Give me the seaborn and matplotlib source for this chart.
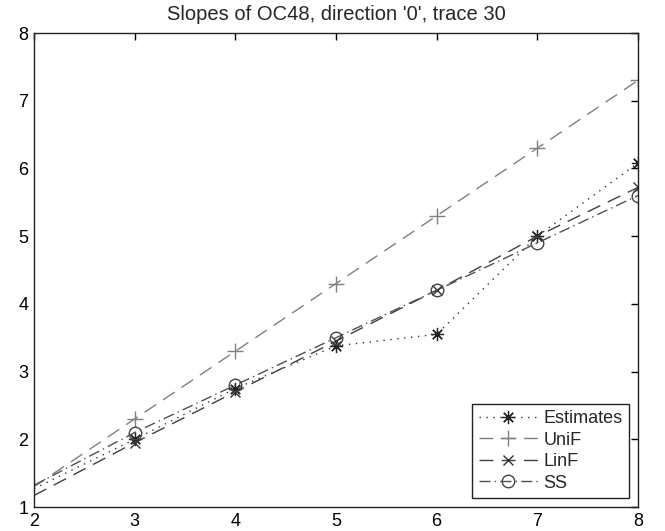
import matplotlib
matplotlib.use("Agg")
import matplotlib.pyplot as plt
import seaborn as sns
import numpy as np

x_vals = [2, 3, 4, 5, 6, 7, 8]
estimates = [1.27, 2.0, 2.75, 3.38, 3.55, 5.0, 6.08]
unif = [1.3, 2.3, 3.3, 4.3, 5.3, 6.3, 7.3]
linf = [1.17, 1.95, 2.7, 3.45, 4.2, 5.0, 5.72]
ss = [1.32, 2.1, 2.8, 3.5, 4.2, 4.9, 5.6]
labels = ["Estimates", "UniF", "LinF", "SS"]

sns.set_style("white")
plt.rcParams['font.family'] = ['Liberation Sans', 'DejaVu Sans']

fig = plt.figure(figsize=(6.65, 5.31), dpi=100)
ax = fig.add_axes([34/665, 1 - 507/531, (638-34)/665, (507-33)/531])

series = [
    (estimates, labels[0], dict(color="#333333", linestyle=(0, (1, 4)), marker=(8, 2, 0), markersize=9.5,
                                markeredgecolor="#222222", markeredgewidth=0.9)),
    (unif, labels[1], dict(color="#7f7f7f", linestyle=(0, (10, 6)), marker="+", markersize=12,
                           markeredgecolor="#7f7f7f", markeredgewidth=1.0)),
    (linf, labels[2], dict(color="#404040", linestyle=(0, (10, 6)), marker="x", markersize=7,
                           markeredgecolor="#333333", markeredgewidth=1.0)),
    (ss, labels[3], dict(color="#505050", linestyle=(0, (8, 3, 1, 3)), marker="o", markersize=9,
                         markerfacecolor="none", markeredgecolor="#444444", markeredgewidth=1.0)),
]
for vals, lab, kw in series:
    sns.lineplot(x=x_vals, y=vals, ax=ax, label=lab, linewidth=1.0,
                 markevery=list(range(1, len(x_vals))), **kw)

ax.set_xlim(2, 8)
ax.set_ylim(1, 8)
ax.set_xticks(range(2, 9))
ax.set_yticks(range(1, 9))
ax.tick_params(direction="in", top=True, right=True, length=5, width=1, labelsize=13, colors="black", pad=4)
for sp in ax.spines.values():
    sp.set_color("#222222")
    sp.set_linewidth(1.0)
ax.set_title("Slopes of OC48, direction '0', trace 30", fontsize=14.5, pad=9)

leg = ax.legend(loc="lower right", fontsize=13, handlelength=3.3, handletextpad=0.3,
                borderaxespad=0.5, fancybox=False, framealpha=1, edgecolor="#222222",
                labelspacing=0.25, borderpad=0.35)
leg.get_frame().set_linewidth(1.0)

fig.savefig("out.png", dpi=100)
